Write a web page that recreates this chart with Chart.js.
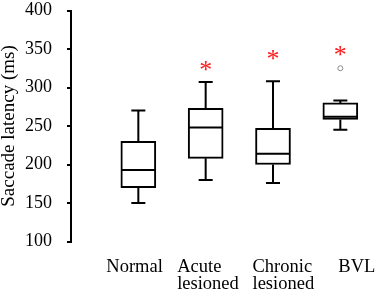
<!DOCTYPE html>
<html>
<head>
<meta charset="utf-8">
<script src="https://cdn.jsdelivr.net/npm/chart.js@4"></script>
<style>
  html, body { margin: 0; padding: 0; background: #fff; }
  #wrap { width: 379px; height: 299px; }
</style>
</head>
<body>
<div id="wrap"><canvas id="c" width="379" height="299"></canvas></div>
<script>
// ---- data ----
const categories = [["Normal"], ["Acute", "lesioned"], ["Chronic", "lesioned"], ["BVL"]];
const whiskerLow  = [150, 180, 176, 245];
const quartile1   = [170, 208, 200, 258.5];
const medians     = [193, 248, 214, 262];
const quartile3   = [230, 273, 247, 280];
const whiskerHigh = [270, 307, 308, 283];
const outliers    = [null, null, null, 325];
const significance = [null, 328, 342, 347];
const yTicks = [100, 150, 200, 250, 300, 350, 400];

// ---- styles ----
const labelShift = [-32, -28.5, -20.5, -2];
const FONT = '"Liberation Serif", "Times New Roman", serif';

const boxData = categories.map((c, i) => ({ x: i + 1, y: [quartile1[i], quartile3[i]] }));
const outlierData = [];
outliers.forEach((v, i) => { if (v !== null) outlierData.push({ x: i + 1, y: v }); });

const boxPlugin = {
  id: 'boxParts',
  afterDatasetsDraw(chart) {
    const { ctx } = chart;
    const xs = chart.scales.x, ys = chart.scales.y;
    const half = 17, cap = 7;
    ctx.save();
    ctx.strokeStyle = '#000';
    ctx.lineWidth = 2;
    categories.forEach((c, i) => {
      const x = xs.getPixelForValue(i + 1);
      const yLo = ys.getPixelForValue(whiskerLow[i]);
      const yQ1 = ys.getPixelForValue(quartile1[i]);
      const yMed = ys.getPixelForValue(medians[i]);
      const yQ3 = ys.getPixelForValue(quartile3[i]);
      const yHi = ys.getPixelForValue(whiskerHigh[i]);
      ctx.beginPath();
      ctx.moveTo(x, yQ3); ctx.lineTo(x, yHi);
      ctx.moveTo(x - cap, yHi); ctx.lineTo(x + cap, yHi);
      ctx.moveTo(x, yQ1); ctx.lineTo(x, yLo);
      ctx.moveTo(x - cap, yLo); ctx.lineTo(x + cap, yLo);
      ctx.moveTo(x - half, yMed); ctx.lineTo(x + half, yMed);
      ctx.stroke();
    });
    // significance asterisks
    ctx.fillStyle = '#ff1a1a';
    ctx.font = '26px ' + FONT;
    ctx.textAlign = 'center';
    ctx.textBaseline = 'alphabetic';
    significance.forEach((v, i) => {
      if (v === null) return;
      const x = xs.getPixelForValue(i + 1);
      const y = ys.getPixelForValue(v);
      const m = ctx.measureText('*');
      const off = (m.actualBoundingBoxAscent - m.actualBoundingBoxDescent) / 2;
      ctx.fillText('*', x, y + off);
    });
    // category labels
    ctx.fillStyle = '#000';
    ctx.font = '18.5px ' + FONT;
    ctx.textAlign = 'left';
    categories.forEach((lines, i) => {
      const x = xs.getPixelForValue(i + 1) + labelShift[i];
      lines.forEach((t, j) => {
        ctx.fillText(t, x, 272 + j * 17);
      });
    });
    ctx.restore();
  }
};

new Chart(document.getElementById('c'), {
  type: 'bar',
  data: {
    datasets: [
      {
        type: 'bar',
        data: boxData,
        backgroundColor: '#fff',
        borderColor: '#000',
        borderWidth: 2,
        borderSkipped: false,
        barThickness: 35
      },
      {
        type: 'scatter',
        data: outlierData,
        pointRadius: 2.5,
        pointBorderWidth: 1,
        pointBorderColor: '#8c8c8c',
        pointBackgroundColor: '#fff'
      }
    ]
  },
  plugins: [boxPlugin],
  options: {
    responsive: false,
    animation: false,
    events: [],
    layout: { padding: { top: 10.5, bottom: 57.5, right: 1, left: 0 } },
    plugins: { legend: { display: false }, tooltip: { enabled: false } },
    scales: {
      x: { type: 'linear', min: 0, max: 4.5, offset: false, display: false },
      y: {
        min: 100, max: 400,
        afterFit(s) { s.width = 71; s.paddingTop = 10.5; s.paddingBottom = 10.5; },
        afterBuildTicks(s) { s.ticks = yTicks.map(v => ({ value: v })); },
        border: { display: true, color: '#000', width: 2 },
        grid: { display: true, drawOnChartArea: false, drawTicks: true, tickLength: 4, color: '#000', lineWidth: 2 },
        ticks: { color: '#000', font: { family: FONT, size: 18 }, padding: 15 },
        title: {
          display: true, text: 'Saccade latency (ms)', color: '#000',
          font: { family: FONT, size: 19, lineHeight: 1 }, padding: { top: 0, bottom: 0 }
        }
      }
    }
  }
});
</script>
</body>
</html>
